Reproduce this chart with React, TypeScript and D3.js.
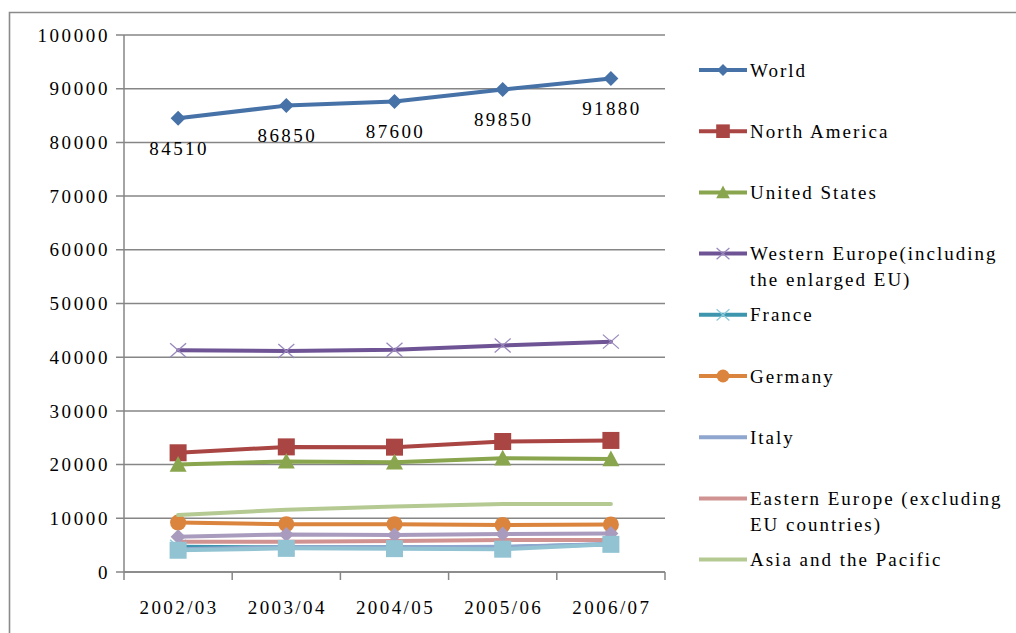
import React from "react";
import * as d3 from "d3";

// Academic years on the category axis
const categories = ["2002/03", "2003/04", "2004/05", "2005/06", "2006/07"];

// Values per region / country, one per year
const world = [84510, 86850, 87600, 89850, 91880];
const northAmerica = [22200, 23300, 23250, 24300, 24500];
const unitedStates = [20000, 20600, 20450, 21200, 21050];
const westernEurope = [41300, 41150, 41400, 42200, 42900];
const france = [4700, 4600, 4600, 4650, 5150];
const germany = [9200, 8900, 8900, 8750, 8850];
const italy = [4250, 4600, 4600, 4700, 5200];
const easternEurope = [5650, 5650, 5750, 5950, 5950];
const asiaPacific = [10600, 11600, 12200, 12650, 12650];
const series10 = [6580, 7000, 6880, 7080, 7180];
const series11 = [4050, 4400, 4350, 4250, 5150];

const yTicks = [0, 10000, 20000, 30000, 40000, 50000, 60000, 70000, 80000, 90000, 100000];

type Marker = "diamond" | "square" | "triangle" | "x" | "circle" | "none";

interface Series {
  label: string[];
  values: number[];
  color: string;
  markerColor: string;
  marker: Marker;
  legend: boolean;
  valueLabels?: boolean;
}

const series: Series[] = [
  { label: ["World"], values: world, color: "#4672A8", markerColor: "#4672A8", marker: "diamond", legend: true, valueLabels: true },
  { label: ["North America"], values: northAmerica, color: "#A94543", markerColor: "#A94543", marker: "square", legend: true },
  { label: ["United States"], values: unitedStates, color: "#89A54E", markerColor: "#89A54E", marker: "triangle", legend: true },
  { label: ["Western Europe(including", "the enlarged EU)"], values: westernEurope, color: "#6E5494", markerColor: "#9A88BC", marker: "x", legend: true },
  { label: ["France"], values: france, color: "#3D96AE", markerColor: "#8CC8DA", marker: "x", legend: true },
  { label: ["Germany"], values: germany, color: "#DB843D", markerColor: "#DB843D", marker: "circle", legend: true },
  { label: ["Italy"], values: italy, color: "#8FA6CF", markerColor: "#8FA6CF", marker: "none", legend: true },
  { label: ["Eastern Europe (excluding", "EU countries)"], values: easternEurope, color: "#D09392", markerColor: "#D09392", marker: "none", legend: true },
  { label: ["Asia and the Pacific"], values: asiaPacific, color: "#B5CA92", markerColor: "#B5CA92", marker: "none", legend: true },
  { label: ["Series 10"], values: series10, color: "#A99BBD", markerColor: "#A99BBD", marker: "diamond", legend: false },
  { label: ["Series 11"], values: series11, color: "#92C3D3", markerColor: "#92C3D3", marker: "square", legend: false },
];

const W = 1016;
const H = 633;
const plot = { left: 124, right: 665, top: 35, bottom: 572 };
const FONT = "'Liberation Serif', 'Times New Roman', serif";
const GRID = "#868686";
const textStyle: React.CSSProperties = { fontFamily: FONT, fontSize: 19 };

const x = d3.scaleBand<string>().domain(categories).range([plot.left, plot.right]).padding(0);
const y = d3.scaleLinear().domain([0, 100000]).range([plot.bottom, plot.top]);
const cx = (c: string) => (x(c) as number) + x.bandwidth() / 2;

function MarkerShape({ type, cxp, cyp, color, scale = 1 }: { type: Marker; cxp: number; cyp: number; color: string; scale?: number }) {
  const s = scale;
  switch (type) {
    case "diamond": {
      const r = 7.5 * s;
      return <path d={`M${cxp},${cyp - r}L${cxp + r},${cyp}L${cxp},${cyp + r}L${cxp - r},${cyp}Z`} fill={color} />;
    }
    case "square": {
      const r = 8.5 * s;
      return <rect x={cxp - r} y={cyp - r} width={2 * r} height={2 * r} fill={color} />;
    }
    case "triangle": {
      const r = 8.5 * s;
      return <path d={`M${cxp},${cyp - r}L${cxp + r},${cyp + r * 0.85}L${cxp - r},${cyp + r * 0.85}Z`} fill={color} />;
    }
    case "x": {
      const rx = 8 * s;
      const ry = 7 * s;
      return (
        <g stroke={color} strokeWidth={1.3}>
          <line x1={cxp - rx} y1={cyp - ry} x2={cxp + rx} y2={cyp + ry} />
          <line x1={cxp - rx} y1={cyp + ry} x2={cxp + rx} y2={cyp - ry} />
        </g>
      );
    }
    case "circle":
      return <circle cx={cxp} cy={cyp} r={8 * s} fill={color} />;
    default:
      return null;
  }
}

export default function App() {
  const line = d3
    .line<number>()
    .x((_, i) => cx(categories[i]))
    .y((v) => y(v));

  const legendItems = series.filter((s) => s.legend);
  const legendY0 = 70;
  const legendStep = 61.2;

  return (
    <svg
      width={W}
      height={H}
      viewBox={`0 0 ${W} ${H}`}
      style={{ position: "absolute", left: 0, top: 0, background: "#fff", fontFamily: FONT }}
    >
      <rect x={0} y={0} width={W} height={H} fill="#fff" />
      {/* chart frame */}
      <path d={`M9.5,${H + 2}V12.5H${W + 2}`} fill="none" stroke="#8a8a8a" strokeWidth={1.6} />

      {/* gridlines and y ticks */}
      {yTicks.map((t) => (
        <line key={t} x1={plot.left - 8} x2={plot.right} y1={y(t)} y2={y(t)} stroke={GRID} strokeWidth={1.5} />
      ))}
      {yTicks.map((t) => (
        <text
          key={`yl${t}`}
          x={110}
          y={y(t)}
          dy="0.35em"
          textAnchor="end"
          style={{ ...textStyle, letterSpacing: "2.6px" }}
          fill="#000"
        >
          {t}
        </text>
      ))}

      {/* axes */}
      <line x1={plot.left} x2={plot.left} y1={plot.top} y2={plot.bottom} stroke={GRID} strokeWidth={1.5} />
      <line x1={plot.left} x2={plot.right} y1={plot.bottom} y2={plot.bottom} stroke={GRID} strokeWidth={1.5} />
      {[...categories.map((c) => x(c) as number), plot.right].map((px, i) => (
        <line key={`xt${i}`} x1={px} x2={px} y1={plot.bottom} y2={plot.bottom + 8} stroke={GRID} strokeWidth={1.5} />
      ))}
      {categories.map((c) => (
        <text key={c} x={cx(c) + 1} y={607} dy="0.35em" textAnchor="middle" style={{ ...textStyle, letterSpacing: "2.4px" }} fill="#000">
          {c}
        </text>
      ))}

      {/* series: line then markers, later series on top */}
      {series.map((s, si) => (
        <g key={si}>
          <path d={line(s.values) || ""} fill="none" stroke={s.color} strokeWidth={4} strokeLinejoin="round" strokeLinecap="round" />
          {s.values.map((v, i) => (
            <MarkerShape key={i} type={s.marker} cxp={cx(categories[i])} cyp={y(v)} color={s.markerColor} />
          ))}
          {s.valueLabels &&
            s.values.map((v, i) => (
              <text
                key={`vl${i}`}
                x={cx(categories[i]) + 1}
                y={y(v) + 30}
                dy="0.35em"
                textAnchor="middle"
                style={{ ...textStyle, letterSpacing: "2.4px" }}
                fill="#000"
              >
                {v}
              </text>
            ))}
        </g>
      ))}

      {/* legend */}
      {legendItems.map((s, i) => {
        const ly = legendY0 + i * legendStep;
        return (
          <g key={`lg${i}`}>
            <line x1={699} x2={747} y1={ly} y2={ly} stroke={s.color} strokeWidth={4} />
            <MarkerShape type={s.marker} cxp={723} cyp={ly} color={s.markerColor} scale={0.8} />
            {s.label.map((t, j) => (
              <text key={j} x={750} y={ly + j * 26} dy="0.35em" style={{ ...textStyle, letterSpacing: "2px" }} fill="#000">
                {t}
              </text>
            ))}
          </g>
        );
      })}
    </svg>
  );
}
